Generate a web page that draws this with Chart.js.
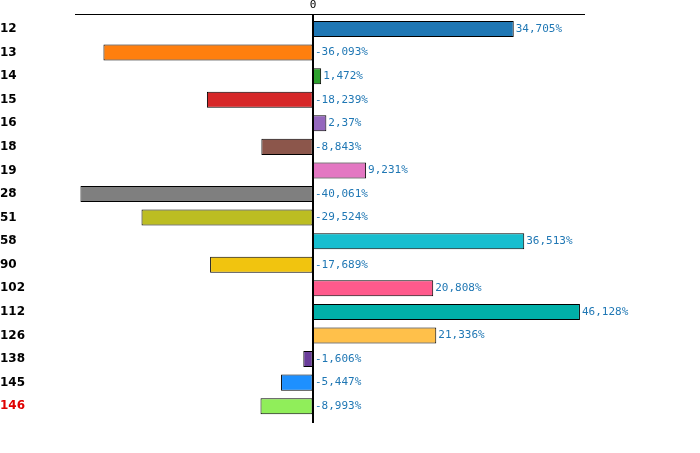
<!DOCTYPE html><html><head><script src="https://cdn.jsdelivr.net/npm/chart.js@4"></script>
<style>body{margin:0;background:#fff}#w{width:700px;height:453px}</style></head><body><div id="w"><canvas id="c"></canvas></div>
<script>
const categories=["12","13","14","15","16","18","19","28","51","58","90","102","112","126","138","145","146"];
const values=[34.705,-36.093,1.472,-18.239,2.37,-8.843,9.231,-40.061,-29.524,36.513,-17.689,20.808,46.128,21.336,-1.606,-5.447,-8.993];
const colors=["#1f77b4","#ff7f0e","#2ca02c","#d62728","#9467bd","#8c564b","#e377c2","#7f7f7f","#bcbd22","#17becf","#f1c40f","#ff5a8c","#00b0a8","#ffc04a","#6a3d9a","#1e90ff","#90ee5a"];
const labelColors=categories.map((c,i)=>i===categories.length-1?"#e00000":"#000");
const fmt=v=>v.toLocaleString('de-DE',{maximumFractionDigits:3})+"%";
const deco={id:'deco',afterDatasetsDraw(ch){const c=ch.ctx,x=ch.scales.x,m=ch.getDatasetMeta(0);const z=Math.round(x.getPixelForValue(0));
c.save();c.strokeStyle='#000';c.lineWidth=1;c.beginPath();c.moveTo(75,14.5);c.lineTo(585,14.5);c.stroke();
c.lineWidth=2;c.beginPath();c.moveTo(z,14);c.lineTo(z,423);c.stroke();
c.font='11px "DejaVu Sans Mono"';c.fillStyle='#000';c.textAlign='center';c.textBaseline='bottom';c.fillText('0',z,11);
c.fillStyle='#1f77b4';c.textAlign='left';c.textBaseline='middle';
m.data.forEach((b,i)=>{const v=values[i];const px=v>=0?b.x+2:z+2;c.fillText(fmt(v),px,b.y);});c.restore();}};
new Chart(document.getElementById('c'),{type:'bar',data:{labels:categories,datasets:[{data:values,backgroundColor:colors,borderColor:'#000',borderWidth:1,borderSkipped:false,barPercentage:0.68,categoryPercentage:1}]},
options:{indexAxis:'y',animation:false,responsive:true,maintainAspectRatio:false,layout:{padding:{top:10,bottom:35,right:115}},
plugins:{legend:{display:false},tooltip:{enabled:false}},
scales:{x:{display:false,min:-41,max:47},y:{grid:{display:false},border:{display:false},afterFit(s){s.width=75;},ticks:{crossAlign:'far',padding:10,color:labelColors,font:{family:'"DejaVu Sans"',weight:'bold',size:12}}}}},plugins:[deco]});
</script></body></html>
